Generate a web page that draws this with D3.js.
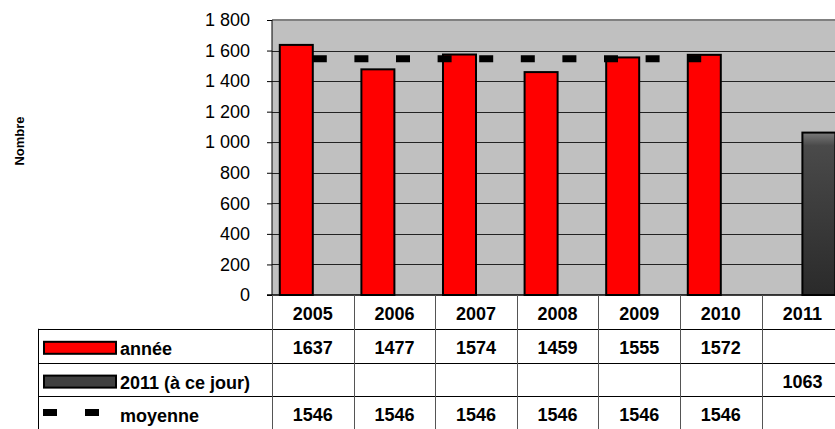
<!DOCTYPE html>
<html>
<head>
<meta charset="utf-8">
<script src="https://cdn.jsdelivr.net/npm/d3@7"></script>
<style>
  body { margin: 0; background: #fff; }
  text { font-family: "Liberation Sans", Arial, sans-serif; fill: #000; }
</style>
</head>
<body>
<script>
// data
let years = ["2005", "2006", "2007", "2008", "2009", "2010", "2011"];
let annee = [1637, 1477, 1574, 1459, 1555, 1572, null];
let aCeJour = [null, null, null, null, null, null, 1063];
let moyenne = [1546, 1546, 1546, 1546, 1546, 1546, null];
let yTicks = [0, 200, 400, 600, 800, 1000, 1200, 1400, 1600, 1800];
let rowLabels = ["année", "2011 (à ce jour)", "moyenne"];

const width = 835, height = 429;
const plotLeft = 272, plotTop = 20, plotBottom = 295, plotRight = 843.2;
const rowH = 33.8;
const fs = 18;

let svg = d3.select("body").append("svg")
  .attr("width", width)
  .attr("height", height);

let x = d3.scaleBand().domain(years).range([plotLeft, plotRight]);
let inner = d3.scaleBand().domain(["annee", "jour"])
  .range([0, x.bandwidth()]).paddingOuter(0.236);
let y = d3.scaleLinear().domain([0, 1800]).range([plotBottom, plotTop]);

let fmt = d3.formatLocale({ decimal: ",", thousands: " ", grouping: [3], currency: ["", ""] }).format(",");

// gradient for the 2011 bar
let defs = svg.append("defs");
let grad = defs.append("linearGradient").attr("id", "dark")
  .attr("x1", 0).attr("y1", 0).attr("x2", 0).attr("y2", 1);
grad.append("stop").attr("offset", "0%").attr("stop-color", "#7a7a7a");
grad.append("stop").attr("offset", "8%").attr("stop-color", "#4a4a4a");
grad.append("stop").attr("offset", "100%").attr("stop-color", "#2a2a2a");

// plot background
svg.append("rect")
  .attr("x", plotLeft).attr("y", plotTop)
  .attr("width", plotRight - plotLeft).attr("height", plotBottom - plotTop)
  .attr("fill", "#c0c0c0");
svg.append("line")
  .attr("x1", plotLeft).attr("x2", plotRight).attr("y1", plotTop).attr("y2", plotTop)
  .attr("stroke", "#808080").attr("stroke-width", 2);

// grid lines
svg.selectAll(".grid")
  .data(yTicks.filter(d => d > 0 && d < 1800))
  .join("line")
  .attr("class", "grid")
  .attr("x1", plotLeft).attr("x2", plotRight)
  .attr("y1", d => Math.round(y(d)) + 0.5).attr("y2", d => Math.round(y(d)) + 0.5)
  .attr("stroke", "#222").attr("stroke-width", 1);

// y axis
let yAxis = svg.append("g")
  .attr("transform", `translate(${plotLeft},0)`)
  .call(d3.axisLeft(y).tickValues(yTicks).tickFormat(fmt).tickSize(5).tickPadding(17));
yAxis.selectAll("text").attr("font-size", fs);
yAxis.selectAll("line,path").attr("stroke", "#000");
yAxis.select(".domain").attr("d", `M0,${plotBottom}V${plotTop}`);

svg.append("text")
  .attr("transform", "translate(24,141) rotate(-90)")
  .attr("text-anchor", "middle")
  .attr("font-size", 13).attr("font-weight", "bold")
  .text("Nombre");

// bars: année
svg.selectAll(".bar-annee")
  .data(years.map((d, i) => ({ year: d, v: annee[i] })).filter(d => d.v != null))
  .join("rect")
  .attr("class", "bar-annee")
  .attr("x", d => x(d.year) + inner("annee"))
  .attr("y", d => y(d.v))
  .attr("width", inner.bandwidth())
  .attr("height", d => plotBottom - y(d.v))
  .attr("fill", "#ff0000").attr("stroke", "#000").attr("stroke-width", 2);

// bars: 2011 (à ce jour)
svg.selectAll(".bar-jour")
  .data(years.map((d, i) => ({ year: d, v: aCeJour[i] })).filter(d => d.v != null))
  .join("rect")
  .attr("class", "bar-jour")
  .attr("x", d => x(d.year) + inner("jour"))
  .attr("y", d => y(d.v))
  .attr("width", inner.bandwidth())
  .attr("height", d => plotBottom - y(d.v))
  .attr("fill", "url(#dark)").attr("stroke", "#000").attr("stroke-width", 2);

// moyenne dashed line
let avgPts = years.map((d, i) => ({ year: d, v: moyenne[i] })).filter(d => d.v != null);
svg.append("path")
  .datum(avgPts)
  .attr("d", d3.line().x(d => x(d.year) + x.bandwidth() / 2).y(d => y(d.v)))
  .attr("fill", "none").attr("stroke", "#000")
  .attr("stroke-width", 7).attr("stroke-dasharray", "14,27.6");

// x axis baseline
svg.append("line")
  .attr("x1", plotLeft - 5).attr("x2", plotRight).attr("y1", plotBottom).attr("y2", plotBottom)
  .attr("stroke", "#000").attr("stroke-width", 1.5);

// data table
let tableLeft = 38;
let tbl = svg.append("g");

// header row cells
tbl.selectAll(".hdr")
  .data(years)
  .join("text")
  .attr("class", "hdr")
  .attr("x", d => x(d) + x.bandwidth() / 2)
  .attr("y", plotBottom + 25)
  .attr("text-anchor", "middle")
  .attr("font-size", fs).attr("font-weight", "bold")
  .text(d => d);

// horizontal row lines
let rowTops = [1, 2, 3].map(i => plotBottom + i * rowH);
tbl.selectAll(".hline")
  .data(rowTops)
  .join("line")
  .attr("class", "hline")
  .attr("x1", tableLeft).attr("x2", plotRight)
  .attr("y1", d => Math.round(d) + 0.5).attr("y2", d => Math.round(d) + 0.5)
  .attr("stroke", "#000").attr("stroke-width", 1);

// vertical column lines
tbl.selectAll(".vline")
  .data(years.map(d => x(d)).concat([plotRight]))
  .join("line")
  .attr("class", "vline")
  .attr("x1", d => Math.round(d) + 0.5).attr("x2", d => Math.round(d) + 0.5)
  .attr("y1", plotBottom).attr("y2", height)
  .attr("stroke", "#555").attr("stroke-width", 1);
tbl.append("line")
  .attr("x1", tableLeft + 0.5).attr("x2", tableLeft + 0.5)
  .attr("y1", rowTops[0]).attr("y2", height)
  .attr("stroke", "#000").attr("stroke-width", 1);

// values
let rows = [annee, aCeJour, moyenne];
rows.forEach((vals, r) => {
  tbl.selectAll(".val" + r)
    .data(years.map((d, i) => ({ year: d, v: vals[i] })).filter(d => d.v != null))
    .join("text")
    .attr("class", "val" + r)
    .attr("x", d => x(d.year) + x.bandwidth() / 2)
    .attr("y", rowTops[r] + 25)
    .attr("text-anchor", "middle")
    .attr("font-size", fs).attr("font-weight", "bold")
    .text(d => d.v);
});

// row labels with legend keys
tbl.selectAll(".rlabel")
  .data(rowLabels)
  .join("text")
  .attr("class", "rlabel")
  .attr("x", 120)
  .attr("y", (d, i) => rowTops[i] + 26)
  .attr("font-size", fs).attr("font-weight", "bold")
  .text(d => d);

tbl.append("rect")
  .attr("x", 44).attr("y", rowTops[0] + 13).attr("width", 72).attr("height", 12)
  .attr("fill", "#ff0000").attr("stroke", "#000").attr("stroke-width", 2);
tbl.append("rect")
  .attr("x", 44).attr("y", rowTops[1] + 13).attr("width", 72).attr("height", 12)
  .attr("fill", "#404040").attr("stroke", "#000").attr("stroke-width", 2);
tbl.append("line")
  .attr("x1", 43).attr("x2", 99)
  .attr("y1", rowTops[2] + 16).attr("y2", rowTops[2] + 16)
  .attr("stroke", "#000").attr("stroke-width", 7).attr("stroke-dasharray", "14,28");
</script>
</body>
</html>
